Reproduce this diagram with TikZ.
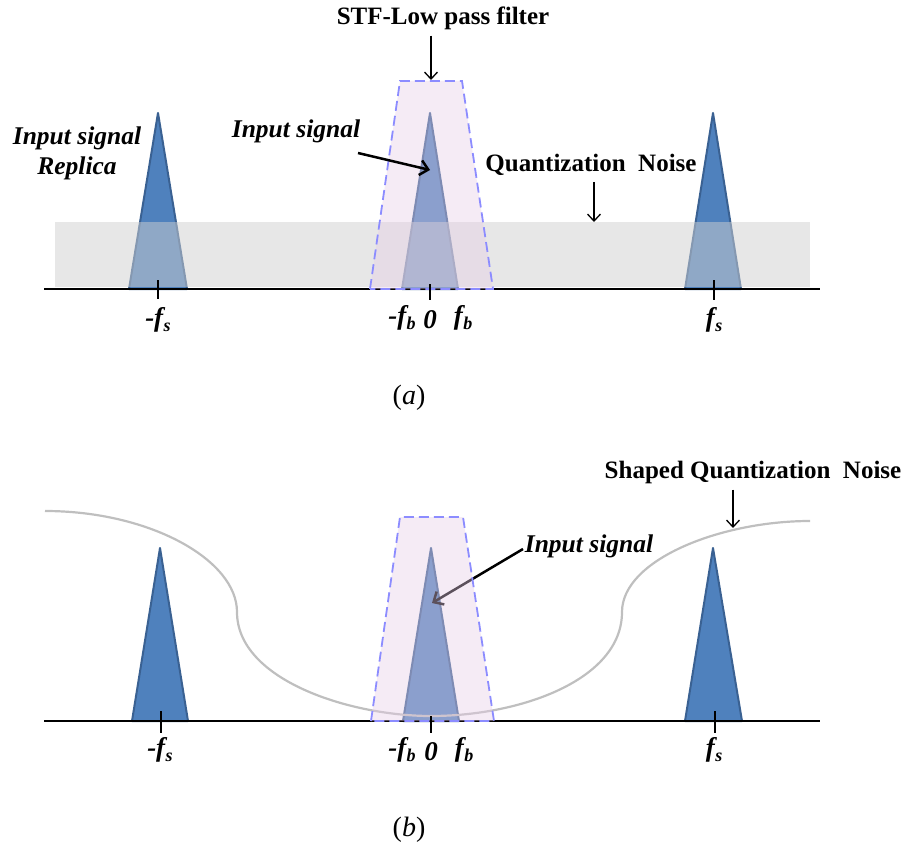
\documentclass[tikz,border=0pt]{standalone}
\usepackage{fontspec}
\setmainfont{Liberation Serif}
\usetikzlibrary{arrows.meta}
\definecolor{triblue}{HTML}{4F81BD}
\definecolor{triedge}{HTML}{3A6192}
\definecolor{filtpink}{HTML}{E6CCE6}
\definecolor{dashblue}{HTML}{8C8CFF}
\definecolor{bandgray}{HTML}{D0D0D0}
\definecolor{curvegray}{HTML}{BFBFBF}
\newcommand\frqlbl[1]{\textit{f}\kern0.5pt\raisebox{-5pt}{\fontsize{18}{18}\selectfont\textit{#1}}}
\begin{document}
\begin{tikzpicture}[x=1pt,y=-1pt,
  lbl/.style={font=\fontsize{25}{30}\selectfont\bfseries, inner sep=0pt},
  ilbl/.style={font=\fontsize{25.5}{30}\selectfont\bfseries\itshape, inner sep=0pt, align=center},
  flbl/.style={font=\fontsize{27}{30}\selectfont\bfseries\itshape, inner sep=0pt},
  captext/.style={font=\fontsize{28}{32}\selectfont, inner sep=0pt},
  tri/.style={fill=triblue, draw=triedge, line width=2pt, line join=round},
  filt/.style={fill=filtpink, fill opacity=0.4, draw=dashblue, draw opacity=1, dash pattern=on 10pt off 5pt, line width=1.8pt},
  band/.style={fill=bandgray, fill opacity=0.5},
  axisline/.style={line width=2.4pt},
  tickline/.style={line width=1.3pt},
  thinarr/.style={line width=1.3pt, -{Straight Barb[length=7pt,width=13pt]}},
  thickarr/.style={line width=2.5pt, -{Straight Barb[length=8pt,width=15pt]}},
  noisecurve/.style={draw=curvegray, line width=2.2pt}
]
\useasboundingbox (0,0) rectangle (907,853);

% ---------------- Panel (a) ----------------
\draw[tri] (129,289) -- (158,113) -- (187,289) -- cycle;
\draw[tri] (402,289) -- (430,113) -- (458,289) -- cycle;
\draw[tri] (685,289) -- (713,113) -- (741,289) -- cycle;
\fill[band] (55,222) rectangle (810,287);
\draw[axisline] (44,289) -- (820,289);
\draw[filt] (370,289) -- (400,81) -- (462,81) -- (493,289) -- cycle;
\draw[tickline] (158,280) -- (158,299);
\draw[tickline] (430,284) -- (430,300);
\draw[tickline] (714,280) -- (714,300);

\node[lbl] (stf) at (443,18) {STF-Low pass filter};
\coordinate (stftop) at (431,80);
\draw[thinarr] ([yshift=-6pt]stf.south -| stftop) -- (stftop);

\node[ilbl] (ina) at (296,131) {Input signal};
\coordinate (inastart) at (358,153);
\coordinate (inaend) at (430,170);
\draw[thickarr] (inastart) -- (inaend);

\node[ilbl] (rep) at (77,153) {Input signal\\Replica};

\node[lbl] (qna) at (591,165) {Quantization\ \ Noise};
\coordinate (qnaend) at (594,222);
\draw[thinarr] ([yshift=-6pt]qna.south -| qnaend) -- (qnaend);

\node[flbl] (mfsa) at (158,320) {-\frqlbl{s}};
\node[flbl] (fsa) at (714,320) {\frqlbl{s}};
\node[flbl] (mfba) at (402,318) {-\frqlbl{b}};
\node[flbl] (zeroa) at (430,320) {0};
\node[flbl] (fba) at (463,318) {\frqlbl{b}};
\node[captext] (capa) at (409,398) {(\textit{a})};

% ---------------- Panel (b) ----------------
\draw[tri] (132,721) -- (160,548) -- (188,721) -- cycle;
\draw[tri] (403,721) -- (431,548) -- (459,721) -- cycle;
\draw[tri] (685,721) -- (713,548) -- (742,721) -- cycle;
\draw[noisecurve] (45,511) .. controls (150,511) and (237,560) .. (237,612)
  .. controls (237,680) and (350,716) .. (431,716)
  .. controls (520,716) and (622,680) .. (622,612)
  .. controls (622,560) and (720,521) .. (810,521);
\draw[axisline] (44,721) -- (820,721);

\node[ilbl] (inb) at (589,546) {Input signal};
\coordinate (inbstart) at (523,549);
\coordinate (inbend) at (432,603);
\draw[thickarr] (inbstart) -- (inbend);

\draw[filt] (371,721) -- (400,517) -- (463,517) -- (494,721) -- cycle;
\draw[tickline] (161,711) -- (161,733);
\draw[tickline] (431,716) -- (431,733);
\draw[tickline] (715,711) -- (715,733);

\node[lbl] (sqn) at (753,472) {Shaped Quantization\ \ Noise};
\coordinate (sqnend) at (733,528);
\draw[thinarr] ([yshift=-6pt]sqn.south -| sqnend) -- (sqnend);

\node[flbl] (mfsb) at (160,750) {-\frqlbl{s}};
\node[flbl] (fsb) at (714,750) {\frqlbl{s}};
\node[flbl] (mfbb) at (402,750) {-\frqlbl{b}};
\node[flbl] (zerob) at (431,752) {0};
\node[flbl] (fbb) at (464,750) {\frqlbl{b}};
\node[captext] (capb) at (409,830) {(\textit{b})};
\end{tikzpicture}
\end{document}
